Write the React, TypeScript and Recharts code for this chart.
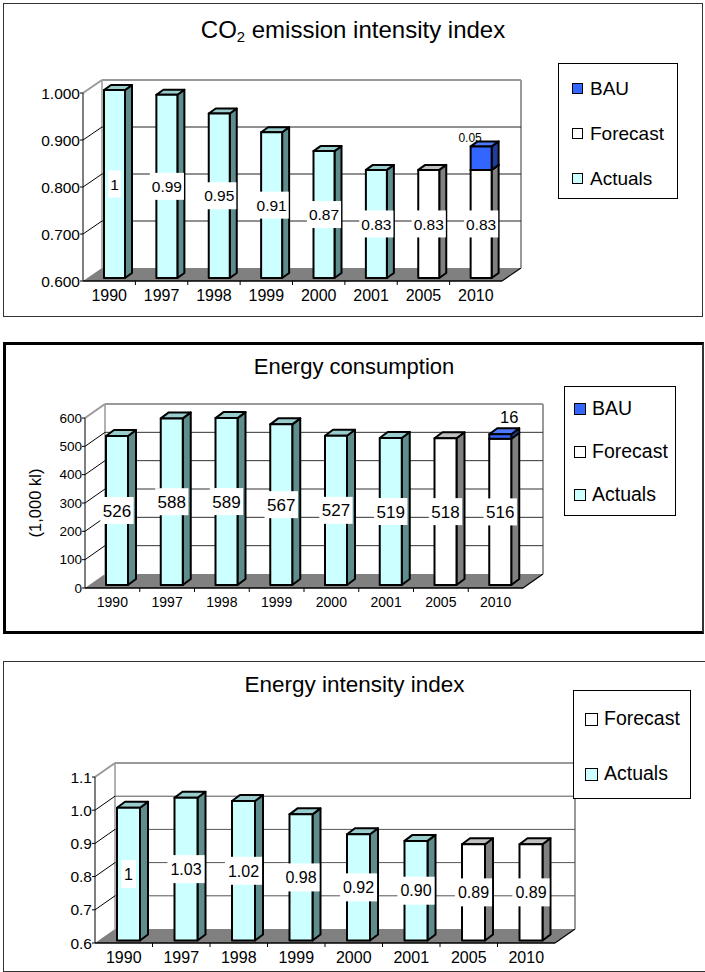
import React from 'react';
import { BarChart, Bar, XAxis, YAxis, CartesianGrid, LabelList, Legend } from 'recharts';

const FONT = '"Liberation Sans", Arial, Helvetica, sans-serif';

// ---------- data ----------
const years = ['1990', '1997', '1998', '1999', '2000', '2001', '2005', '2010'];

const co2Actuals = [1, 0.99, 0.95, 0.91, 0.87, 0.83, null, null];
const co2Forecast = [null, null, null, null, null, null, 0.83, 0.83];
const co2Bau = [null, null, null, null, null, null, null, 0.05];
const co2Ticks = [0.6, 0.7, 0.8, 0.9, 1.0];

const energyActuals = [526, 588, 589, 567, 527, 519, null, null];
const energyForecast = [null, null, null, null, null, null, 518, 516];
const energyBau = [null, null, null, null, null, null, null, 16];
const energyTicks = [0, 100, 200, 300, 400, 500, 600];

const intensityActuals = [1, 1.03, 1.02, 0.98, 0.92, 0.9, null, null];
const intensityForecast = [null, null, null, null, null, null, 0.89, 0.89];
const intensityTicks = [0.6, 0.7, 0.8, 0.9, 1.0, 1.1];

// ---------- styles ----------
const COLORS: Record<string, { front: string; side: string; top: string }> = {
  Actuals: { front: '#CCFFFF', side: '#5F8C8C', top: '#99CCCC' },
  Forecast: { front: '#FFFFFF', side: '#808080', top: '#C0C0C0' },
  BAU: { front: '#3366FF', side: '#1F3D99', top: '#4D7AFF' },
};

const LEGEND_ORDER = ['BAU', 'Forecast', 'Actuals'];

const digitW = (s: string) =>
  [...s].reduce((a, c) => a + (c === '.' || c === ',' ? 0.278 : 0.556), 0);

const fmtVal = (v: number) => (Number.isInteger(v) ? String(v) : v.toFixed(2));

type Cfg = any;

const cfg1: Cfg = {
  panel: { left: 3, top: 3, width: 698, height: 312, border: '1px solid #333' },
  title: { node: <>CO<sub style={{ fontSize: '0.62em', verticalAlign: '-0.3em', lineHeight: 0 }}>2</sub> emission intensity index</>, size: 24, cy: 26 },
  margin: { top: 89, right: 200, bottom: 5, left: 19 },
  yWidth: 60,
  xHeight: 30,
  domain: [0.6, 1.0],
  ticks: co2Ticks,
  tickFmt: (v: number) => v.toFixed(3),
  tickFont: 15.5,
  catFont: 16,
  catBase: 19.5,
  wall: { dx: 19, dy: -13, grid: '#222' },
  bar: { size: 21, ox: 5, oy: -3, sx: 7, sy: -5, stroke: 2 },
  label: { font: 15.5, h: 27, pad: 2 },
  bau: { font: 12, dx: -11, dy: -4 },
  legend: { left: 554, top: 59, width: 120, height: 136, firstY: 24, gap: 45, markerX: 13, marker: 11, textX: 31, font: 19 },
  yLabel: null,
};

const cfg2: Cfg = {
  panel: { left: 3, top: 342, width: 696, height: 286, border: '3px solid #000', borderRight: '2px solid #333' },
  title: { node: <>Energy consumption</>, size: 22, cy: 22 },
  margin: { top: 73, right: 179, bottom: 13, left: 29 },
  yWidth: 50,
  xHeight: 30,
  domain: [0, 600],
  ticks: energyTicks,
  tickFmt: (v: number) => String(v),
  tickFont: 13.5,
  catFont: 14,
  catBase: 18.9,
  wall: { dx: 20, dy: -14, grid: '#333' },
  bar: { size: 22, ox: 5, oy: -3, sx: 8, sy: -6, stroke: 2 },
  label: { font: 17, h: 27, pad: 2.5 },
  bau: { font: 16.5, dx: 9, dy: -11 },
  legend: { left: 558, top: 41, width: 112, height: 130, firstY: 22, gap: 43, markerX: 9, marker: 12, textX: 27, font: 19.5 },
  yLabel: { text: '(1,000 kl)', dx: 0, font: 16.5 },
};

const cfg3: Cfg = {
  panel: { left: 3, top: 661, width: 701, height: 309, border: '1px solid #333' },
  title: { node: <>Energy intensity index</>, size: 22.5, cy: 23 },
  margin: { top: 115, right: 150, bottom: 0, left: 31 },
  yWidth: 60,
  xHeight: 28,
  domain: [0.6, 1.1],
  ticks: intensityTicks,
  tickFmt: (v: number) => v.toFixed(1),
  tickFont: 15.5,
  catFont: 16,
  catBase: 19.6,
  wall: { dx: 20, dy: -14, grid: '#555' },
  bar: { size: 23, ox: 5, oy: -2.5, sx: 8, sy: -6, stroke: 2 },
  label: { font: 16, h: 28, pad: 3 },
  bau: { font: 16, dx: 0, dy: -6 },
  legend: { left: 569, top: 28, width: 118, height: 109, firstY: 28, gap: 55, markerX: 11, marker: 13, textX: 30, font: 19.5 },
  yLabel: null,
};

// ---------- renderers ----------
const makeShape = (cfg: Cfg, series: string, field: string) => (p: any) => {
  const { x, y, width, height, payload } = p;
  if (!payload || payload[field] == null || !isFinite(y) || !isFinite(height) || height <= 0.1) return <g />;
  const { ox, oy, sx, sy, stroke } = cfg.bar;
  const c = COLORS[series];
  const fx = x + ox;
  const fy = y + oy;
  return (
    <g>
      <polygon
        points={`${fx + width},${fy} ${fx + width + sx},${fy + sy} ${fx + width + sx},${fy + height + sy} ${fx + width},${fy + height}`}
        fill={c.side}
        stroke="#000"
        strokeWidth={stroke}
        strokeLinejoin="round"
      />
      <polygon
        points={`${fx},${fy} ${fx + sx},${fy + sy} ${fx + width + sx},${fy + sy} ${fx + width},${fy}`}
        fill={c.top}
        stroke="#000"
        strokeWidth={stroke}
        strokeLinejoin="round"
      />
      <rect x={fx} y={fy} width={width} height={height} fill={c.front} stroke="#000" strokeWidth={stroke} strokeLinejoin="round" />
    </g>
  );
};

const makeBoxLabel = (cfg: Cfg) => (p: any) => {
  const v = p.value;
  if (v == null || v === '') return null;
  const vb = p.viewBox || p;
  const { x, y, width, height } = vb;
  if (!isFinite(x) || !isFinite(y)) return null;
  const text = fmtVal(Number(v));
  const cx = x + cfg.bar.ox + width / 2;
  const cy = y + cfg.bar.oy + height / 2;
  const tw = digitW(text) * cfg.label.font;
  const bw = tw + cfg.label.pad * 2;
  return (
    <g>
      <rect x={cx - bw / 2} y={cy - cfg.label.h / 2} width={bw} height={cfg.label.h} fill="#fff" />
      <text x={cx} y={cy} dy="0.36em" textAnchor="middle" fontSize={cfg.label.font} fontFamily={FONT} fill="#000">
        {text}
      </text>
    </g>
  );
};

const makeTopLabel = (cfg: Cfg) => (p: any) => {
  const v = p.value;
  if (v == null || v === '') return null;
  const vb = p.viewBox || p;
  const { x, y, width } = vb;
  if (!isFinite(x) || !isFinite(y)) return null;
  const cx = x + cfg.bar.ox + width / 2 + cfg.bau.dx;
  const by = y + cfg.bar.oy + cfg.bau.dy;
  return (
    <text x={cx} y={by} textAnchor="middle" fontSize={cfg.bau.font} fontFamily={FONT} fill="#000">
      {fmtVal(Number(v))}
    </text>
  );
};

const makeGrid = (cfg: Cfg) => (p: any) => {
  const { y1, index, x, y, width, height } = p;
  const { dx, dy, grid } = cfg.wall;
  const bottom = y + height;
  const k = `grid-${index}`;
  if (Math.abs(y1 - bottom) < 0.5) {
    return (
      <g key={k}>
        <polygon points={`${x},${bottom} ${x + width},${bottom} ${x + width + dx},${bottom + dy} ${x + dx},${bottom + dy}`} fill="#808080" />
        <line x1={x + width} y1={bottom} x2={x + width + dx} y2={bottom + dy} stroke="#000" strokeWidth={1.2} />
        <line x1={x + dx} y1={y + dy} x2={x + dx} y2={bottom + dy} stroke="#999" strokeWidth={1.5} />
        <line x1={x + width + dx} y1={y + dy} x2={x + width + dx} y2={bottom + dy} stroke="#999" strokeWidth={2} />
      </g>
    );
  }
  if (Math.abs(y1 - y) < 0.5) {
    return (
      <g key={k}>
        <line x1={x + dx} y1={y1 + dy} x2={x + width + dx} y2={y1 + dy} stroke="#999" strokeWidth={2} />
        <line x1={x} y1={y1} x2={x + dx} y2={y1 + dy} stroke="#999" strokeWidth={2} />
      </g>
    );
  }
  return (
    <g key={k}>
      <line x1={x + dx} y1={y1 + dy} x2={x + width + dx} y2={y1 + dy} stroke={grid} strokeWidth={1} />
      <line x1={x} y1={y1} x2={x + dx} y2={y1 + dy} stroke="#000" strokeWidth={1} />
    </g>
  );
};

const makeXTick = (cfg: Cfg) => (p: any) => {
  const { x, y, payload, index } = p;
  const plotW = cfg.panel.width - cfg.margin.left - cfg.margin.right - cfg.yWidth;
  const band = plotW / years.length;
  return (
    <g>
      <text x={x} y={y + cfg.catBase} textAnchor="middle" fontSize={cfg.catFont} fontFamily={FONT} fill="#000">
        {payload.value}
      </text>
      {index < years.length - 1 && <line x1={x + band / 2} y1={y} x2={x + band / 2} y2={y + 4} stroke="#000" strokeWidth={1} />}
    </g>
  );
};

const makeLegend = (cfg: Cfg, present: string[]) => (props: any) => {
  const L = cfg.legend;
  const fromPayload: string[] =
    props && props.payload && props.payload.length ? props.payload.map((e: any) => String(e.value)) : present;
  const names = LEGEND_ORDER.filter((n) => fromPayload.includes(n));
  return (
    <div
      style={{
        position: 'relative',
        width: L.width,
        height: L.height,
        border: '1px solid #000',
        boxSizing: 'border-box',
        background: '#fff',
        fontFamily: FONT,
      }}
    >
      {names.map((n, i) => {
        const cy = L.firstY + i * L.gap;
        return (
          <React.Fragment key={n}>
            <div
              style={{
                position: 'absolute',
                left: L.markerX,
                top: cy - L.marker / 2,
                width: L.marker,
                height: L.marker,
                boxSizing: 'border-box',
                border: '1.5px solid #000',
                background: (COLORS[n] || COLORS.Forecast).front,
              }}
            />
            <div
              style={{
                position: 'absolute',
                left: L.textX,
                top: cy - L.font / 2,
                height: L.font,
                lineHeight: `${L.font}px`,
                fontSize: L.font,
                color: '#000',
                whiteSpace: 'nowrap',
              }}
            >
              {n}
            </div>
          </React.Fragment>
        );
      })}
    </div>
  );
};

function Chart3D({ cfg, actuals, forecast, bau }: { cfg: Cfg; actuals: (number | null)[]; forecast: (number | null)[]; bau?: (number | null)[] }) {
  const rows = years.map((year, i) => ({
    year,
    actual: actuals[i],
    forecast: forecast[i],
    bau: bau ? bau[i] : null,
  }));
  const base = cfg.domain[0];
  const P = cfg.panel;
  const seriesNames = bau ? ['Actuals', 'Forecast', 'BAU'] : ['Actuals', 'Forecast'];
  return (
    <div
      style={{
        position: 'absolute',
        left: P.left,
        top: P.top,
        width: P.width,
        height: P.height,
        border: P.border,
        borderRight: P.borderRight || P.border,
        background: '#fff',
      }}
    >
      <div style={{ position: 'absolute', left: 0, top: 0 }}>
        <BarChart
          width={P.width}
          height={P.height}
          data={rows}
          margin={cfg.margin}
          barSize={cfg.bar.size}
          barGap={-cfg.bar.size}
        >
          <CartesianGrid vertical={false} horizontal={makeGrid(cfg)} fill="none" />
          <XAxis
            dataKey="year"
            height={cfg.xHeight}
            interval={0}
            axisLine={{ stroke: '#000', strokeWidth: 1.5 }}
            tickLine={false}
            tickSize={0}
            tickMargin={0}
            tick={makeXTick(cfg)}
          />
          <YAxis
            type="number"
            width={cfg.yWidth}
            domain={cfg.domain}
            ticks={cfg.ticks}
            interval={0}
            tickFormatter={cfg.tickFmt}
            axisLine={{ stroke: '#000', strokeWidth: 1 }}
            tickLine={{ stroke: '#000' }}
            tickSize={3}
            tickMargin={0}
            tick={{ fontSize: cfg.tickFont, fill: '#000', fontFamily: FONT }}
            label={
              cfg.yLabel
                ? {
                    value: cfg.yLabel.text,
                    content: (p: any) => {
                      const vb = p.viewBox || { x: cfg.margin.left, y: cfg.margin.top, height: 0 };
                      const cx = vb.x + cfg.yLabel.dx;
                      const cy = vb.y + vb.height / 2;
                      return (
                        <text
                          x={cx}
                          y={cy}
                          dy="0.36em"
                          transform={`rotate(-90 ${cx} ${cy})`}
                          textAnchor="middle"
                          fontSize={cfg.yLabel.font}
                          fontFamily={FONT}
                          fill="#000"
                        >
                          {cfg.yLabel.text}
                        </text>
                      );
                    },
                  }
                : undefined
            }
          />
          <Bar
            name="Actuals"
            dataKey={(d: any) => (d.actual == null ? null : [base, d.actual])}
            fill={COLORS.Actuals.front}
            shape={makeShape(cfg, 'Actuals', 'actual')}
            isAnimationActive={false}
          >
            <LabelList dataKey="actual" content={makeBoxLabel(cfg)} />
          </Bar>
          <Bar
            name="Forecast"
            dataKey={(d: any) => (d.forecast == null ? null : [base, d.forecast])}
            fill={COLORS.Forecast.front}
            shape={makeShape(cfg, 'Forecast', 'forecast')}
            isAnimationActive={false}
          >
            <LabelList dataKey="forecast" content={makeBoxLabel(cfg)} />
          </Bar>
          {bau && (
            <Bar
              name="BAU"
              dataKey={(d: any) => (d.bau == null || d.forecast == null ? null : [d.forecast, d.forecast + d.bau])}
              fill={COLORS.BAU.front}
              shape={makeShape(cfg, 'BAU', 'bau')}
              isAnimationActive={false}
            >
              <LabelList dataKey="bau" content={makeTopLabel(cfg)} />
            </Bar>
          )}
          <Legend
            layout="vertical"
            align="center"
            verticalAlign="middle"
            wrapperStyle={{ left: cfg.legend.left, top: cfg.legend.top, width: cfg.legend.width, height: cfg.legend.height }}
            content={makeLegend(cfg, seriesNames)}
          />
        </BarChart>
      </div>
      <div
        style={{
          position: 'absolute',
          left: 0,
          width: '100%',
          top: cfg.title.cy - cfg.title.size / 2,
          height: cfg.title.size,
          lineHeight: `${cfg.title.size}px`,
          textAlign: 'center',
          fontSize: cfg.title.size,
          fontFamily: FONT,
          color: '#000',
          whiteSpace: 'nowrap',
          pointerEvents: 'none',
        }}
      >
        {cfg.title.node}
      </div>
    </div>
  );
}

export default function App() {
  return (
    <div style={{ position: 'absolute', left: 0, top: 0, width: 705, height: 972, background: '#fff', overflow: 'hidden' }}>
      <Chart3D cfg={cfg1} actuals={co2Actuals} forecast={co2Forecast} bau={co2Bau} />
      <Chart3D cfg={cfg2} actuals={energyActuals} forecast={energyForecast} bau={energyBau} />
      <Chart3D cfg={cfg3} actuals={intensityActuals} forecast={intensityForecast} />
    </div>
  );
}
